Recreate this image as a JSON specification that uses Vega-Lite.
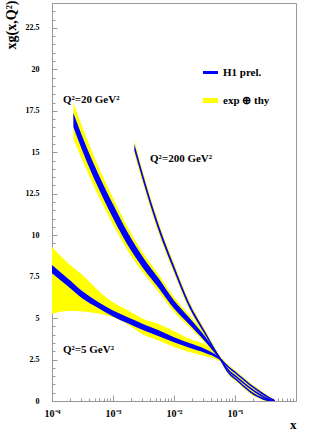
{
  "$schema": "https://vega.github.io/schema/vega-lite/v6.json",
  "width": 244,
  "height": 398,
  "autosize": "none",
  "padding": {"left": 52, "top": 3, "right": 13, "bottom": 35},
  "background": "white",
  "config": {
    "view": {"stroke": "#999999", "strokeWidth": 1},
    "font": "Liberation Serif",
    "axis": {
      "domainColor": "#999999",
      "tickColor": "#999999",
      "labelColor": "black",
      "labelFont": "Liberation Serif",
      "labelFontWeight": "bold",
      "titleFont": "Liberation Serif",
      "titleFontWeight": "bold",
      "titleColor": "black",
      "grid": false
    }
  },
  "resolve": {"axis": {"x": "independent", "y": "independent"}},
  "datasets": {
    "curves": [
      {"q": "5", "x": 0.0001, "lo": 5.25, "hi": 9.3, "blo": 7.7, "bhi": 8.2},
      {"q": "5", "x": 0.000178, "lo": 5.42, "hi": 8.35, "blo": 6.95, "bhi": 7.42},
      {"q": "5", "x": 0.000316, "lo": 5.4, "hi": 7.6, "blo": 6.18, "bhi": 6.62},
      {"q": "5", "x": 0.000562, "lo": 5.28, "hi": 6.7, "blo": 5.62, "bhi": 5.98},
      {"q": "5", "x": 0.001, "lo": 5.05, "hi": 5.95, "blo": 5.1, "bhi": 5.45},
      {"q": "5", "x": 0.00178, "lo": 4.6, "hi": 5.45, "blo": 4.67, "bhi": 5.03},
      {"q": "5", "x": 0.00316, "lo": 4.0, "hi": 4.95, "blo": 4.27, "bhi": 4.63},
      {"q": "5", "x": 0.00562, "lo": 3.65, "hi": 4.65, "blo": 3.9, "bhi": 4.26},
      {"q": "5", "x": 0.01, "lo": 3.25, "hi": 4.22, "blo": 3.55, "bhi": 3.85},
      {"q": "5", "x": 0.0178, "lo": 2.95, "hi": 3.75, "blo": 3.21, "bhi": 3.49},
      {"q": "5", "x": 0.0316, "lo": 2.72, "hi": 3.42, "blo": 2.91, "bhi": 3.15},
      {"q": "5", "x": 0.0562, "lo": 2.4, "hi": 2.72, "blo": 2.48, "bhi": 2.62},
      {"q": "5", "x": 0.0794, "lo": 1.9, "hi": 2.14, "blo": 1.96, "bhi": 2.08},
      {"q": "5", "x": 0.1, "lo": 1.61, "hi": 1.85, "blo": 1.67, "bhi": 1.79},
      {"q": "5", "x": 0.133, "lo": 1.23, "hi": 1.47, "blo": 1.29, "bhi": 1.41},
      {"q": "5", "x": 0.178, "lo": 0.85, "hi": 1.09, "blo": 0.91, "bhi": 1.03},
      {"q": "5", "x": 0.251, "lo": 0.46, "hi": 0.7, "blo": 0.52, "bhi": 0.64},
      {"q": "5", "x": 0.316, "lo": 0.22, "hi": 0.44, "blo": 0.27, "bhi": 0.39},
      {"q": "5", "x": 0.398, "lo": 0.03, "hi": 0.2, "blo": 0.07, "bhi": 0.17},
      {"q": "5", "x": 0.447, "lo": -0.03, "hi": 0.09, "blo": 0.0, "bhi": 0.07},

      {"q": "20", "x": 0.000224, "lo": 15.8, "hi": 18.0, "blo": 16.53, "bhi": 17.37},
      {"q": "20", "x": 0.000316, "lo": 14.5, "hi": 16.5, "blo": 15.08, "bhi": 15.92},
      {"q": "20", "x": 0.000562, "lo": 12.45, "hi": 14.25, "blo": 12.93, "bhi": 13.77},
      {"q": "20", "x": 0.001, "lo": 10.65, "hi": 12.25, "blo": 11.03, "bhi": 11.87},
      {"q": "20", "x": 0.00178, "lo": 9.02, "hi": 10.42, "blo": 9.34, "bhi": 10.1},
      {"q": "20", "x": 0.00316, "lo": 7.7, "hi": 8.9, "blo": 7.98, "bhi": 8.62},
      {"q": "20", "x": 0.00562, "lo": 6.58, "hi": 7.62, "blo": 6.82, "bhi": 7.38},
      {"q": "20", "x": 0.01, "lo": 5.37, "hi": 6.27, "blo": 5.58, "bhi": 6.06},
      {"q": "20", "x": 0.0178, "lo": 4.46, "hi": 5.18, "blo": 4.62, "bhi": 5.02},
      {"q": "20", "x": 0.0316, "lo": 3.53, "hi": 4.05, "blo": 3.64, "bhi": 3.94},
      {"q": "20", "x": 0.0562, "lo": 2.45, "hi": 2.75, "blo": 2.52, "bhi": 2.68},
      {"q": "20", "x": 0.0794, "lo": 1.68, "hi": 1.96, "blo": 1.75, "bhi": 1.89},
      {"q": "20", "x": 0.1, "lo": 1.4, "hi": 1.64, "blo": 1.46, "bhi": 1.58},
      {"q": "20", "x": 0.133, "lo": 1.02, "hi": 1.26, "blo": 1.08, "bhi": 1.2},
      {"q": "20", "x": 0.178, "lo": 0.65, "hi": 0.89, "blo": 0.71, "bhi": 0.83},
      {"q": "20", "x": 0.251, "lo": 0.28, "hi": 0.52, "blo": 0.34, "bhi": 0.46},
      {"q": "20", "x": 0.316, "lo": 0.07, "hi": 0.29, "blo": 0.12, "bhi": 0.24},
      {"q": "20", "x": 0.398, "lo": -0.05, "hi": 0.14, "blo": 0.0, "bhi": 0.1},
      {"q": "20", "x": 0.447, "lo": -0.06, "hi": 0.07, "blo": -0.03, "bhi": 0.04},

      {"q": "200", "x": 0.00224, "lo": 14.9, "hi": 15.7, "blo": 15.1, "bhi": 15.5},
      {"q": "200", "x": 0.00316, "lo": 13.0, "hi": 13.74, "blo": 13.18, "bhi": 13.56},
      {"q": "200", "x": 0.00562, "lo": 10.1, "hi": 10.76, "blo": 10.26, "bhi": 10.6},
      {"q": "200", "x": 0.01, "lo": 7.7, "hi": 8.3, "blo": 7.85, "bhi": 8.15},
      {"q": "200", "x": 0.0178, "lo": 5.52, "hi": 6.02, "blo": 5.64, "bhi": 5.9},
      {"q": "200", "x": 0.0316, "lo": 3.95, "hi": 4.35, "blo": 4.05, "bhi": 4.25},
      {"q": "200", "x": 0.0562, "lo": 2.45, "hi": 2.71, "blo": 2.51, "bhi": 2.65},
      {"q": "200", "x": 0.0794, "lo": 1.55, "hi": 1.81, "blo": 1.61, "bhi": 1.75},
      {"q": "200", "x": 0.1, "lo": 1.23, "hi": 1.47, "blo": 1.29, "bhi": 1.41},
      {"q": "200", "x": 0.133, "lo": 0.83, "hi": 1.07, "blo": 0.89, "bhi": 1.01},
      {"q": "200", "x": 0.178, "lo": 0.44, "hi": 0.68, "blo": 0.5, "bhi": 0.62},
      {"q": "200", "x": 0.251, "lo": 0.13, "hi": 0.35, "blo": 0.18, "bhi": 0.3},
      {"q": "200", "x": 0.316, "lo": -0.02, "hi": 0.18, "blo": 0.03, "bhi": 0.13},
      {"q": "200", "x": 0.398, "lo": -0.06, "hi": 0.08, "blo": -0.03, "bhi": 0.05},
      {"q": "200", "x": 0.447, "lo": -0.06, "hi": 0.06, "blo": -0.03, "bhi": 0.03}
    ],
    "labels": [
      {"text": "Q²=20 GeV²", "x": 0.000151, "y": 17.97},
      {"text": "Q²=200 GeV²", "x": 0.00405, "y": 14.41},
      {"text": "Q²=5 GeV²", "x": 0.000151, "y": 2.9}
    ]
  },
  "layer": [
    {
      "data": {"name": "curves"},
      "mark": {"type": "area", "interpolate": "monotone", "clip": true},
      "encoding": {
        "x": {
          "field": "x", "type": "quantitative",
          "scale": {"type": "log", "domain": [0.0001, 1]},
          "axis": {
            "orient": "bottom",
            "values": [0.0001,0.0002,0.0003,0.0004,0.0005,0.0006,0.0007,0.0008,0.0009,0.001,0.002,0.003,0.004,0.005,0.006,0.007,0.008,0.009,0.01,0.02,0.03,0.04,0.05,0.06,0.07,0.08,0.09,0.1,0.2,0.3,0.4,0.5,0.6,0.7,0.8,0.9,1],
            "tickSize": {"condition": {"test": "abs(log(datum.value)/LN10 - round(log(datum.value)/LN10)) < 0.001", "value": -6}, "value": -3},
            "labelExpr": "abs(datum.value - 0.0001) < 0.00001 ? '10⁻⁴' : abs(datum.value - 0.001) < 0.0001 ? '10⁻³' : abs(datum.value - 0.01) < 0.001 ? '10⁻²' : abs(datum.value - 0.1) < 0.01 ? '10⁻¹' : ''",
            "labelFontSize": 10,
            "labelPadding": 13,
            "labelOverlap": false,
            "labelFlush": false,
            "title": "x",
            "titleFontSize": 13,
            "titleAnchor": "end",
            "titleAlign": "right",
            "titleBaseline": "alphabetic",
            "titleX": 244,
            "titleY": 27
          }
        },
        "y": {
          "field": "lo", "type": "quantitative",
          "scale": {"domain": [0, 24], "nice": false, "zero": false},
          "axis": {
            "orient": "left",
            "values": [0,0.5,1,1.5,2,2.5,3,3.5,4,4.5,5,5.5,6,6.5,7,7.5,8,8.5,9,9.5,10,10.5,11,11.5,12,12.5,13,13.5,14,14.5,15,15.5,16,16.5,17,17.5,18,18.5,19,19.5,20,20.5,21,21.5,22,22.5,23,23.5,24],
            "tickSize": {"condition": {"test": "datum.value % 2.5 == 0", "value": -5}, "value": -3},
            "labelExpr": "datum.value % 2.5 == 0 ? format(datum.value, '~g') : ''",
            "labelFontSize": 8,
            "labelPadding": 18,
            "labelOverlap": false,
            "labelFlush": false,
            "title": "xg(x,Q²)",
            "titleFontSize": 14,
            "titleAngle": -90,
            "titleAnchor": "end",
            "titleAlign": "right",
            "titleBaseline": "alphabetic",
            "titleX": -37,
            "titleY": -3
          }
        },
        "y2": {"field": "hi"},
        "detail": {"field": "q"},
        "color": {
          "datum": "exp ⊕ thy",
          "scale": {"domain": ["H1 prel.", "exp ⊕ thy"], "range": ["#0000ff", "#ffff00"]},
          "legend": {
            "orient": "none",
            "legendX": 151,
            "legendY": 62,
            "title": null,
            "symbolType": "M-1,-0.25H1V0.25H-1Z",
            "symbolSize": 225,
            "symbolStrokeWidth": 0,
            "symbolOpacity": 1,
            "labelFont": "Liberation Serif",
            "labelFontWeight": "bold",
            "labelFontSize": 11,
            "labelColor": "black",
            "labelOffset": 5,
            "rowPadding": 15,
            "encode": {
              "symbols": {
                "update": {
                  "shape": {"signal": "datum.value == 'H1 prel.' ? 'M-1,-0.2H1V0.2H-1Z' : 'M-1,-0.33H1V0.33H-1Z'"}
                }
              }
            }
          }
        }
      }
    },
    {
      "data": {"name": "curves"},
      "mark": {"type": "area", "interpolate": "monotone", "clip": true},
      "encoding": {
        "x": {"field": "x", "type": "quantitative", "axis": null},
        "y": {"field": "blo", "type": "quantitative", "axis": null},
        "y2": {"field": "bhi"},
        "detail": {"field": "q"},
        "color": {"datum": "H1 prel."}
      }
    },
    {
      "data": {"name": "labels"},
      "mark": {"type": "text", "align": "left", "baseline": "alphabetic", "font": "Liberation Serif", "fontWeight": "bold", "fontSize": 11, "color": "black"},
      "encoding": {
        "x": {"field": "x", "type": "quantitative", "axis": null},
        "y": {"field": "y", "type": "quantitative", "axis": null},
        "text": {"field": "text"}
      }
    }
  ]
}
